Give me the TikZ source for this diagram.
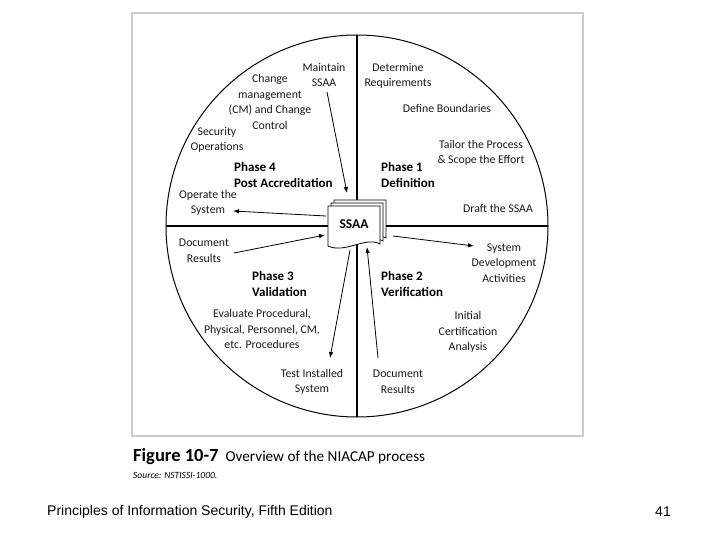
\documentclass[tikz,border=0pt]{standalone}
\usepackage{fontspec}
\setmainfont{Carlito}
\newfontfamily\arialf{Liberation Sans}
\usetikzlibrary{arrows.meta,calc}
\newcommand\docpage[2]{\draw[page] (#1,#2) -- ++(52,0) -- ++(0,38) .. controls +(-14,-8) and +(17,8) .. ++(-52,2) -- cycle;}
\begin{document}
\begin{tikzpicture}[x=1pt,y=-1pt,
  lbl/.style={align=center, font=\fontsize{11.8}{15.5}\selectfont, text=black!90, inner sep=0pt},
  phase/.style={align=left, font=\fontsize{13}{16}\selectfont\bfseries, inner sep=0pt, anchor=west},
  arr/.style={-{Latex[length=6pt,width=4.5pt]}, line width=0.8pt},
  divider/.style={line width=1.2pt},
  page/.style={draw, fill=white, line width=0.8pt}]
\useasboundingbox (0,0) rectangle (720,540);
% frame
\draw[black!20, line width=1.5pt] (132,13) rectangle (583,436);
% circle and dividers
\coordinate (c) at (357,226);
\draw[line width=1pt] (c) circle (191pt);
\draw[divider] ($(c)+(-191,0)$) -- ($(c)+(191,0)$);
\draw[divider] ($(c)+(0,-191)$) -- ($(c)+(0,191)$);
% SSAA stack
\docpage{334}{200}
\docpage{331}{203}
\docpage{328}{206}
\node[font=\fontsize{13.5}{15}\selectfont\bfseries, inner sep=0pt] (ssaa) at (354,224) {SSAA};
% quadrant 1
\node[lbl] (req) at (398,76) {Determine\\Requirements};
\node[lbl] (bound) at (447,108) {Define Boundaries};
\node[lbl] (tailor) at (481,153) {Tailor the Process\\\& Scope the Effort};
\node[phase] (ph1) at (381,175) {Phase 1\\Definition};
\node[lbl] (draft) at (498,208) {Draft the SSAA};
% quadrant 4
\node[lbl] (maint) at (324,75) {Maintain\\SSAA};
\node[lbl] (change) at (270,102) {Change\\management\\(CM) and Change\\Control};
\node[lbl] (secops) at (217,140) {Security\\Operations};
\node[phase] (ph4) at (234,175) {Phase 4\\Post Accreditation};
\node[lbl] (operate) at (208,203) {Operate the\\System};
% quadrant 3
\node[lbl] (docL) at (204,251) {Document\\Results};
\node[phase] (ph3) at (252,284) {Phase 3\\Validation};
\node[lbl] (eval) at (262,329) {Evaluate Procedural,\\Physical, Personnel, CM,\\etc. Procedures};
\node[lbl] (test) at (312,382) {Test Installed\\System};
% quadrant 2
\node[lbl] (sysdev) at (504,263) {System\\Development\\Activities};
\node[phase] (ph2) at (381,284) {Phase 2\\Verification};
\node[lbl] (init) at (468,332) {Initial\\Certification\\Analysis};
\node[lbl] (docR) at (398,382) {Document\\Results};
% arrow end points
\coordinate (a1s) at (327,92);  \coordinate (a1e) at (347,193);
\coordinate (a2s) at (326,216); \coordinate (a2e) at (233,211);
\coordinate (a3s) at (234,253); \coordinate (a3e) at (325,235);
\coordinate (a4s) at (350,250); \coordinate (a4e) at (330,358);
\coordinate (a5s) at (378,358); \coordinate (a5e) at (367,247);
\coordinate (a6s) at (393,236); \coordinate (a6e) at (474,246);
\draw[arr] (a1s) -- (a1e);
\draw[arr] (a2s) -- (a2e);
\draw[arr] (a3s) -- (a3e);
\draw[arr] (a4s) -- (a4e);
\draw[arr] (a5s) -- (a5e);
\draw[arr] (a6s) -- (a6e);
% caption
\node[anchor=west, inner sep=0pt, font=\fontsize{15.2}{17}\selectfont] (cap) at (133,457) {{\fontsize{18.5}{19}\selectfont\bfseries Figure 10-7}\hspace{7pt}Overview of the NIACAP process};
\node[anchor=west, inner sep=0pt, font=\fontsize{9.5}{11}\selectfont\itshape] (src) at (133,475) {Source: NSTISSI-1000.};
% footer
\node[anchor=west, inner sep=0pt, font=\arialf\fontsize{14}{16}\selectfont] (foot) at (47,512) {Principles of Information Security, Fifth Edition};
\node[anchor=east, inner sep=0pt, font=\arialf\fontsize{14}{16}\selectfont] (pg) at (671,512) {41};
\end{tikzpicture}
\end{document}
